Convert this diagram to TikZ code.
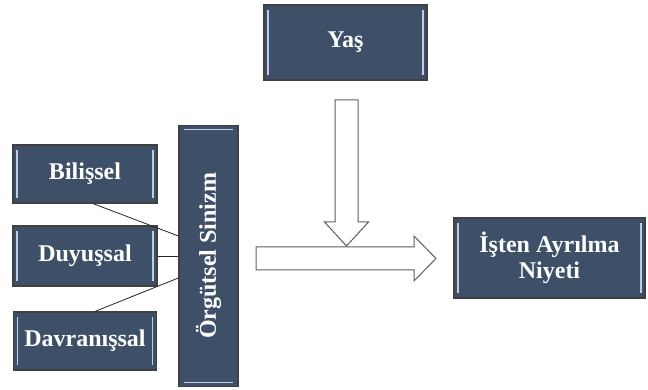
\documentclass[tikz,border=0pt]{standalone}
\usepackage{fontspec}
\setmainfont{Liberation Serif}
\usetikzlibrary{positioning,calc}

\definecolor{boxfill}{RGB}{62,80,104}
\definecolor{boxline}{RGB}{64,64,64}
\definecolor{bevel}{RGB}{190,205,225}
\definecolor{arrline}{RGB}{95,95,95}

\begin{document}
\begin{tikzpicture}[x=1pt,y=1pt,on grid]
\tikzset{
  box/.style={draw=boxline,line width=1.2pt,fill=boxfill,text=white,
    font=\fontsize{24}{26}\selectfont\bfseries,align=center,inner sep=0pt},
  vbevel/.style={path picture={
    \draw[bevel,line width=1.6pt]
      ([xshift=4pt,yshift=5pt]path picture bounding box.south west) --
      ([xshift=4pt,yshift=-5pt]path picture bounding box.north west);
    \draw[bevel,line width=1.6pt]
      ([xshift=-4pt,yshift=5pt]path picture bounding box.south east) --
      ([xshift=-4pt,yshift=-5pt]path picture bounding box.north east);}},
  hbevel/.style={path picture={
    \draw[bevel,line width=1.6pt]
      ([xshift=5pt,yshift=4pt]path picture bounding box.south west) --
      ([xshift=-5pt,yshift=4pt]path picture bounding box.south east);
    \draw[bevel,line width=1.6pt]
      ([xshift=5pt,yshift=-4pt]path picture bounding box.north west) --
      ([xshift=-5pt,yshift=-4pt]path picture bounding box.north east);}},
  link/.style={draw=black!85,line width=0.8pt},
  blockarrow/.style={draw=arrline,line width=1pt,fill=white,line join=miter}
}
\useasboundingbox (0,0) rectangle (648,390);

% cynicism dimensions
\node[box,vbevel,minimum width=144pt,minimum height=58pt] (bilissel) at (85,216) {Bilişsel};
\node[box,vbevel,minimum width=144pt,minimum height=60pt] (duyussal) [below=82pt of bilissel] {Duyuşsal};
\node[box,vbevel,minimum width=143pt,minimum height=58pt] (davranissal) [below=85pt of duyussal] {Davranışsal};
\node[box,hbevel,minimum width=59pt,minimum height=261pt] (sinizm) [right=123.5pt of duyussal] {\rotatebox{90}{Örgütsel Sinizm}};

% age and outcome
\node[box,vbevel,minimum width=163pt,minimum height=75pt] (yas) at (345.5,347.5) {Yaş};
\node[box,vbevel,minimum width=191pt,minimum height=80pt] (niyet) at (549.5,132) {İşten Ayrılma\\Niyeti};

\draw[link] ([xshift=8pt]bilissel.south) -- ([yshift=20pt]sinizm.west);
\draw[link] (duyussal.east) -- (duyussal.east -| sinizm.west);
\draw[link] ([xshift=10pt]davranissal.north) -- ([yshift=-22pt]sinizm.west);

% block arrows
\coordinate (rtail) at (256,131.5);
\coordinate (rtip) at (436,131.5);
\coordinate (dtail) at (346.5,290);
\coordinate (dtip) at (346.5,144);
\draw[blockarrow] ($(rtail)+(0,11.5)$) -- ($(rtip)+(-22,11.5)$) -- ($(rtip)+(-22,22.5)$)
  -- (rtip) -- ($(rtip)+(-22,-22.5)$) -- ($(rtip)+(-22,-11.5)$) -- ($(rtail)+(0,-11.5)$) -- cycle;
\draw[blockarrow] ($(dtail)+(-11.5,0)$) -- ($(dtail)+(11.5,0)$) -- ($(dtip)+(11.5,24)$)
  -- ($(dtip)+(22,24)$) -- (dtip) -- ($(dtip)+(-22,24)$) -- ($(dtip)+(-11.5,24)$) -- cycle;
\end{tikzpicture}
\end{document}
